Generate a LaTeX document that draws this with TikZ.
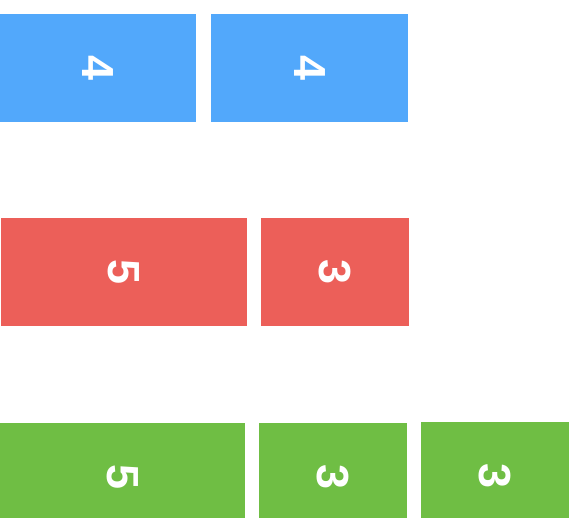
\documentclass[tikz,border=0pt]{standalone}
\usepackage{fontspec}
\setmainfont{Liberation Sans}
\usepackage{xcolor}
\usepackage{tikz}

\definecolor{barblue}{HTML}{52A8FB}
\definecolor{barred}{HTML}{EC5F59}
\definecolor{bargreen}{HTML}{6FBE44}

\tikzset{
  bar/.style={rectangle, inner sep=0pt, draw=none, text=white,
    minimum height=108pt, font=\fontsize{45}{45}\selectfont\bfseries},
  bluebar/.style={bar, fill=barblue},
  redbar/.style={bar, fill=barred},
  greenbar/.style={bar, fill=bargreen}
}

\newcommand{\turned}[1]{\rotatebox{-90}{#1}}

\begin{document}
\begin{tikzpicture}[x=1pt, y=1pt]
  \useasboundingbox (0,0) rectangle (575,518);
  \clip (0,0) rectangle (575,518);

  % top row
  \node[bluebar, minimum width=196pt] (blueA) at (98,450) {\turned{4}};
  \node[bluebar, minimum width=197pt] (blueB) at (309.5,450) {\turned{4}};

  % middle row
  \node[redbar, minimum width=246pt] (redA) at (124,246) {\turned{5}};
  \node[redbar, minimum width=148pt] (redB) at (335,246) {\turned{3}};

  % bottom row (runs off the lower edge)
  \node[greenbar, minimum width=245pt] (greenA) at (122.5,41) {\turned{5}};
  \node[greenbar, minimum width=148pt] (greenB) at (333,41) {\turned{3}};
  \node[greenbar, minimum width=148pt] (greenC) at (495,42) {\turned{3}};
\end{tikzpicture}
\end{document}
